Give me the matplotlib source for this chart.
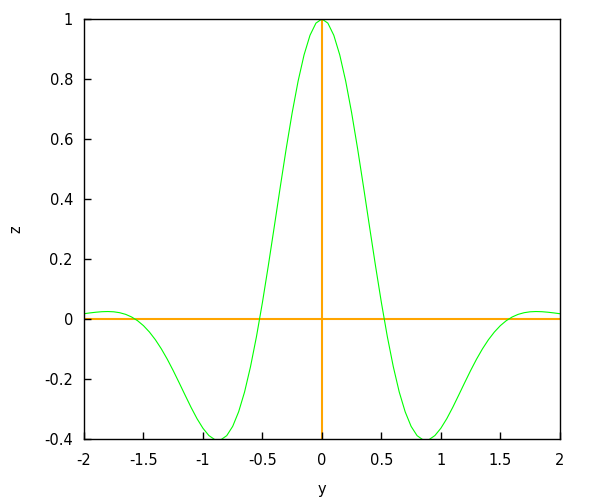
import matplotlib
matplotlib.use("Agg")
import matplotlib.pyplot as plt

plt.rcParams['axes.unicode_minus'] = False
plt.rcParams['font.family'] = ['DejaVu Sans']

y_vals = [-2.00, -1.95, -1.90, -1.85, -1.80, -1.75, -1.70, -1.65, -1.60, -1.55,
          -1.50, -1.45, -1.40, -1.35, -1.30, -1.25, -1.20, -1.15, -1.10, -1.05,
          -1.00, -0.95, -0.90, -0.85, -0.80, -0.75, -0.70, -0.65, -0.60, -0.55,
          -0.50, -0.45, -0.40, -0.35, -0.30, -0.25, -0.20, -0.15, -0.10, -0.05,
          0.00,
          0.05, 0.10, 0.15, 0.20, 0.25, 0.30, 0.35, 0.40, 0.45, 0.50,
          0.55, 0.60, 0.65, 0.70, 0.75, 0.80, 0.85, 0.90, 0.95, 1.00,
          1.05, 1.10, 1.15, 1.20, 1.25, 1.30, 1.35, 1.40, 1.45, 1.50,
          1.55, 1.60, 1.65, 1.70, 1.75, 1.80, 1.85, 1.90, 1.95, 2.00]
z_vals = [0.0176, 0.0203, 0.0226, 0.0243, 0.0249, 0.0240, 0.0210, 0.0155, 0.0068, -0.0056,
          -0.0222, -0.0434, -0.0691, -0.0994, -0.1339, -0.1720, -0.2125, -0.2538, -0.2945, -0.3321,
          -0.3642, -0.3885, -0.4022, -0.4028, -0.3888, -0.3579, -0.3093, -0.2431, -0.1585, -0.0585,
          0.0551, 0.1789, 0.3088, 0.4402, 0.5681, 0.6874, 0.7930, 0.8804, 0.9458, 0.9863,
          1.0000,
          0.9863, 0.9458, 0.8804, 0.7930, 0.6874, 0.5681, 0.4402, 0.3088, 0.1789, 0.0551,
          -0.0585, -0.1585, -0.2431, -0.3093, -0.3579, -0.3888, -0.4028, -0.4022, -0.3885, -0.3642,
          -0.3321, -0.2945, -0.2538, -0.2125, -0.1720, -0.1339, -0.0994, -0.0691, -0.0434, -0.0222,
          -0.0056, 0.0068, 0.0155, 0.0210, 0.0240, 0.0249, 0.0243, 0.0226, 0.0203, 0.0176]

x_ticks = [-2, -1.5, -1, -0.5, 0, 0.5, 1, 1.5, 2]
x_tick_labels = ["-2", "-1.5", "-1", "-0.5", "0", "0.5", "1", "1.5", "2"]
y_ticks = [-0.4, -0.2, 0, 0.2, 0.4, 0.6, 0.8, 1]
y_tick_labels = ["-0.4", "-0.2", "0", "0.2", "0.4", "0.6", "0.8", "1"]

fig = plt.figure(figsize=(6, 5), dpi=100)
ax = fig.add_axes([0.14, 0.122, 0.793, 0.84])

ax.axhline(0, color='#FFA500', lw=1.5, zorder=1)
ax.axvline(0, color='#FFA500', lw=1.5, zorder=1)
ax.plot(y_vals, z_vals, color='#00FF00', lw=0.8, zorder=2)

ax.set_xlim(-2, 2)
ax.set_ylim(-0.4, 1)
ax.set_xticks(x_ticks)
ax.set_xticklabels(x_tick_labels)
ax.set_yticks(y_ticks)
ax.set_yticklabels(y_tick_labels)
ax.tick_params(direction='in', length=5, width=1, labelsize=10.5)
ax.tick_params(axis='x', pad=10)
ax.tick_params(axis='y', pad=8)
for s in ax.spines.values():
    s.set_linewidth(1.0)
ax.set_xlabel('y', fontsize=10.5, labelpad=10)
ax.set_ylabel('z', fontsize=10.5, rotation=90, labelpad=15)

fig.savefig('out.png', dpi=100)
